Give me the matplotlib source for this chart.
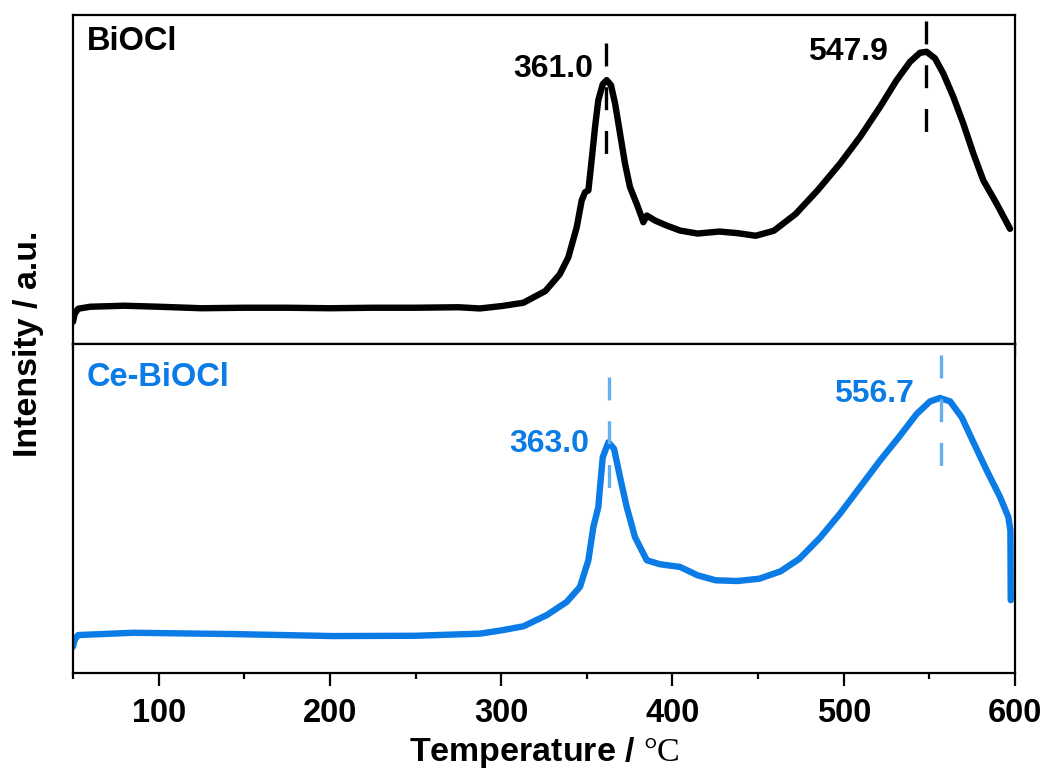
import matplotlib
matplotlib.use('Agg')
import matplotlib.pyplot as plt
from matplotlib.ticker import MultipleLocator
import numpy as np

plt.rcParams['font.family'] = ['Liberation Sans', 'DejaVu Sans']
plt.rcParams['mathtext.fontset'] = 'custom'
plt.rcParams['mathtext.rm'] = 'Liberation Serif'
plt.rcParams['lines.scale_dashes'] = False

# BiOCl curve (temperature / deg C, intensity / a.u.)
bi_T = [50, 51, 53, 60, 80, 100, 125, 150, 175, 200, 225, 250, 275, 287.6,
        300.4, 313, 325.8, 334.2, 339.2, 344.1, 347, 349, 350.9, 352.8, 354.8,
        356.7, 359.3, 361.6, 364.1, 366.5, 369.4, 372.3, 375.2, 379.1, 382, 383,
        385, 389.8, 396.6, 404.4, 414.7, 427.4, 438, 448.6, 459.2, 471.9, 484.6,
        497.8, 509.5, 521.2, 530.9, 538.7, 544.5, 548.4, 553.3, 558.1, 564,
        569.8, 575.7, 581.5, 589.3, 597.1]
bi_I = [22, 30, 35, 37, 38, 37, 35.5, 36, 36, 35.5, 36, 36, 36.5, 35.3,
        37.7, 41, 52.7, 69.4, 86.3, 116.3, 143, 151.3, 153, 183, 216.3,
        243, 259, 263, 258, 239.7, 209.7, 179.7, 156.3, 139.7, 126.3, 121.3,
        128, 123, 118, 113, 110, 112, 110.4, 107.8, 112.8, 129.5, 152.8,
        179.7, 206.3, 236.3, 263, 281.3, 290.3, 291.3, 284.7, 269.7, 246.3,
        219.7, 189.7, 163, 139.7, 114.7]

# Ce-BiOCl curve
ce_T = [50, 51, 53, 85, 143, 202, 250, 287.6, 300.4, 313, 326.6, 338.3, 346,
        350.9, 353.8, 356.7, 357.7, 359.3, 362.6, 365.9, 369.4, 373.3, 378.1,
        385, 392.7, 404.4, 414.7, 425.3, 438, 450.7, 463, 474, 486, 497.8,
        509.5, 521.2, 532.9, 542.6, 550.4, 556.2, 562.1, 568.9, 575.7, 583.5,
        591.3, 596.1, 597.3, 597.4, 597.5]
ce_I = [26, 33, 37.7, 40, 38.7, 36.7, 37, 39.1, 42.5, 46.5, 57.7, 71, 86,
        112.7, 146, 166, 186, 216, 231, 224.4, 196, 166, 136,
        112.7, 108.7, 106, 97.6, 92.6, 91.9, 94.2, 101.5, 114, 135, 159.4,
        186, 212.7, 237.7, 259.4, 272, 275.4, 272, 256, 231, 202.7,
        176, 156, 142.7, 109.4, 72.7]

# peak positions and labels
bi_peaks = [361.0, 547.9]
ce_peaks = [363.0, 556.7]
bi_dash = [(300, 188), (322, 211)]
ce_dash = [(296, 184), (318, 206)]
bi_text = [(353.6, 266.3), (525.8, 283)]
ce_text = [(351.2, 221), (540.7, 271.2)]

black = '#000000'
blue = '#0b7be6'
light_blue = '#62b0f2'

fig = plt.figure(figsize=(10.49, 7.73), dpi=100)
gs = fig.add_gridspec(2, 1, left=0.0696, right=0.9676, bottom=0.1298, top=0.9806, hspace=0)
ax1 = fig.add_subplot(gs[0])
ax2 = fig.add_subplot(gs[1], sharex=ax1)

ax1.plot(bi_T, bi_I, color=black, lw=4.6, solid_capstyle='round', solid_joinstyle='round')
ax2.plot(ce_T, ce_I, color=blue, lw=4.6, solid_capstyle='round', solid_joinstyle='round')

for p, (y0, y1) in zip(bi_peaks, bi_dash):
    ax1.plot([p, p], [y0, y1], color=black, lw=2.4, dashes=(16.5, 15))
for p, (y0, y1) in zip(ce_peaks, ce_dash):
    ax2.plot([p, p], [y0, y1], color=light_blue, lw=2.4, dashes=(16.5, 15))

for p, (tx, ty) in zip(bi_peaks, bi_text):
    ax1.text(tx, ty, '%.1f' % p, color=black, fontsize=23, fontweight='bold',
             ha='right', va='baseline')
for p, (tx, ty) in zip(ce_peaks, ce_text):
    ax2.text(tx, ty, '%.1f' % p, color=blue, fontsize=23, fontweight='bold',
             ha='right', va='baseline')

ax1.text(0.015, 0.893, 'BiOCl', transform=ax1.transAxes, color=black,
         fontsize=23.5, fontweight='bold', ha='left', va='baseline')
ax2.text(0.014, 0.873, 'Ce-BiOCl', transform=ax2.transAxes, color=blue,
         fontsize=23.5, fontweight='bold', ha='left', va='baseline')

ax1.set_ylim(0, 328)
ax2.set_ylim(0, 329.7)
ax1.set_xlim(50, 600)

for ax in (ax1, ax2):
    ax.set_yticks([])
    for s in ax.spines.values():
        s.set_linewidth(1.6)
    ax.xaxis.set_major_locator(MultipleLocator(100))
    ax.xaxis.set_minor_locator(MultipleLocator(50))
    ax.tick_params(axis='x', which='major', direction='out', length=9, width=1.6)
    ax.tick_params(axis='x', which='minor', direction='out', length=4.5, width=1.6)

ax1.tick_params(axis='x', which='both', labelbottom=False)
ax2.tick_params(axis='x', which='major', labelsize=23.5, pad=9)
for lab in ax2.get_xticklabels():
    lab.set_fontweight('bold')

fig.text(0.5186, 0.027, r'Temperature / $\mathrm{°C}$', fontsize=24.5, fontweight='bold',
         ha='center', va='center')
fig.text(0.027, 0.5556, 'Intensity / a.u.', fontsize=24.5, fontweight='bold',
         rotation=90, ha='center', va='center')

fig.savefig('out.png', dpi=100)
